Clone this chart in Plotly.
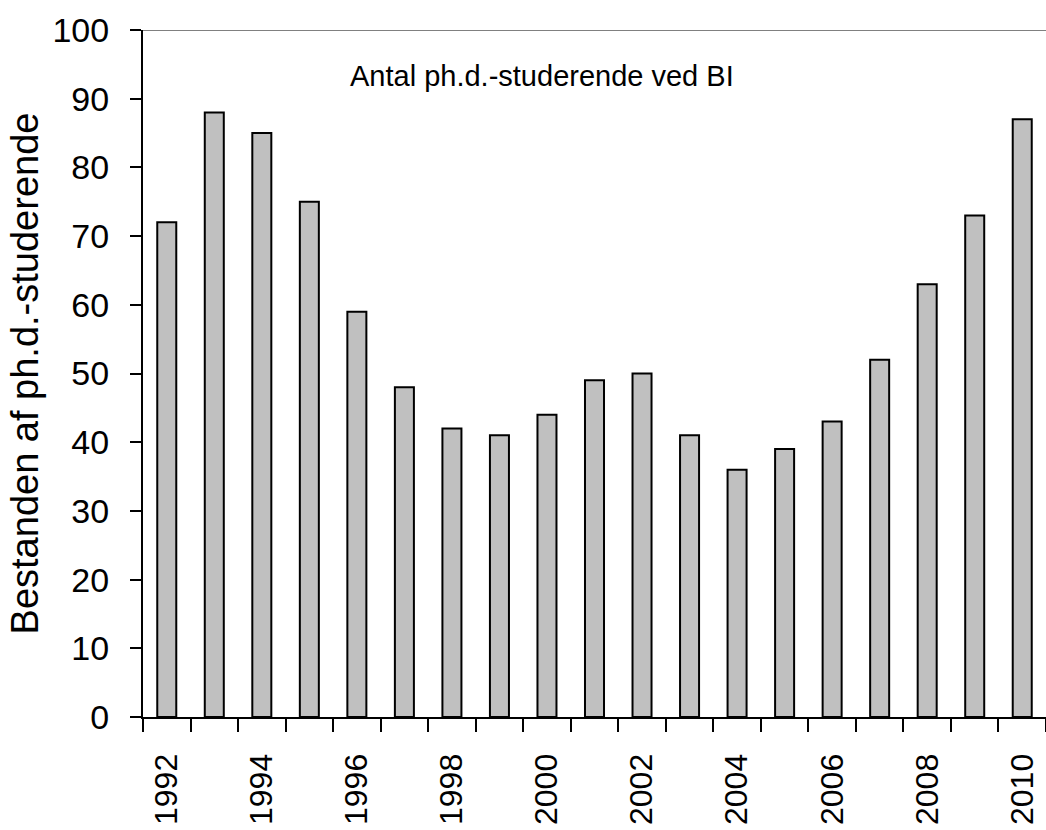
import plotly.graph_objects as go

years = list(range(1992, 2011))
values = [72, 88, 85, 75, 59, 48, 42, 41, 44, 49, 50, 41, 36, 39, 43, 52, 63, 73, 87]
label_years = years[::2]
y_ticks = list(range(0, 101, 10))
title_text = "Antal ph.d.-studerende ved BI"
y_title = "Bestanden af ph.d.-studerende"

FONT = "Arial, Liberation Sans, sans-serif"

fig = go.Figure()
fig.add_trace(go.Bar(
    x=years, y=values,
    marker=dict(color="#C0C0C0", line=dict(color="black", width=2)),
    width=0.4,
))

boundaries = [y - 0.5 for y in years] + [years[-1] + 0.5]

fig.update_layout(
    width=1046, height=830,
    margin=dict(l=143, r=0, t=30, b=113),
    paper_bgcolor="white", plot_bgcolor="white",
    showlegend=False,
    font=dict(family=FONT, color="black"),
    xaxis=dict(
        range=[years[0] - 0.5, years[-1] + 0.5],
        tickmode="array", tickvals=label_years,
        ticktext=[str(y) for y in label_years],
        tickangle=-90, ticks="", ticklen=0,
        tickfont=dict(size=32, family=FONT, color="black"),
        ticklabelstandoff=22,
        showline=True, linecolor="black", linewidth=2,
        showgrid=False, zeroline=False,
        minor=dict(tickmode="array", tickvals=boundaries, ticks="outside",
                   ticklen=13, tickwidth=2, tickcolor="black", showgrid=False),
    ),
    yaxis=dict(
        range=[0, 100], tickmode="array", tickvals=y_ticks,
        ticks="outside", ticklen=11, tickwidth=2, tickcolor="black",
        tickfont=dict(size=34, family=FONT, color="black"),
        ticklabelstandoff=14,
        showline=True, linecolor="black", linewidth=2,
        showgrid=False, zeroline=False,
        title=dict(text=y_title, font=dict(size=38, family=FONT, color="black"), standoff=2),
        automargin=False,
    ),
    shapes=[dict(type="line", xref="paper", yref="y", x0=0, x1=1, y0=100, y1=100,
                 line=dict(color="#808080", width=2))],
    annotations=[dict(text=title_text, x=1999.9, y=93.3, xref="x", yref="y",
                      showarrow=False, font=dict(size=29, family=FONT, color="black"))],
)

fig.write_html("out.html", config={"displayModeBar": False},
               post_script="document.body.style.margin='0';document.body.style.overflow='hidden';")
